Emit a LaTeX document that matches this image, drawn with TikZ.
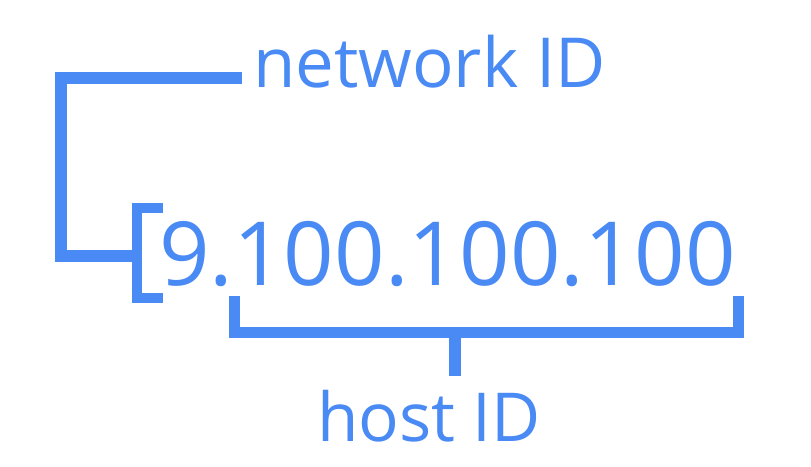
\documentclass[tikz,border=0pt]{standalone}
\usepackage{fontspec}
\setmainfont{Open Sans}
\definecolor{gblue}{HTML}{4A8AF4}
\tikzset{
  lbl/.style={text=gblue, inner sep=0pt, anchor=base west},
  brk/.style={draw=gblue, line join=miter, line cap=butt},
}
\begin{document}
\begin{tikzpicture}[x=1pt,y=-1pt]
\useasboundingbox[fill=white] (0,0) rectangle (811,466);
% texts
\node[lbl, font=\fontsize{69}{69}\selectfont] (net) at (253,87) {network ID};
\node[lbl, font=\fontsize{88.5}{88.5}\selectfont] (ip) at (159,285) {9.100.100.100};
\node[lbl, font=\fontsize{67.5}{67.5}\selectfont] (host) at (317,441) {host ID};
% network bracket
\coordinate (n1) at (242,78);
\coordinate (n2) at (61,78);
\coordinate (n3) at (61,256);
\coordinate (n4) at (137,256);
\draw[brk, line width=12] (n1) -- (n2) -- (n3) -- (n4);
% small bracket before the address
\coordinate (s1) at (163,208);
\coordinate (s2) at (137,208);
\coordinate (s3) at (137,298);
\coordinate (s4) at (163,298);
\draw[brk, line width=10.5] (s1) -- (s2) -- (s3) -- (s4);
% host bracket
\coordinate (h1) at (234,296);
\coordinate (h2) at (234,332);
\coordinate (h3) at (738,332);
\coordinate (h4) at (738,296);
\draw[brk, line width=11] (h1) -- (h2) -- (h3) -- (h4);
\coordinate (hs) at (455,332);
\coordinate (he) at (455,376);
\draw[brk, line width=12] (hs) -- (he);
\end{tikzpicture}
\end{document}
